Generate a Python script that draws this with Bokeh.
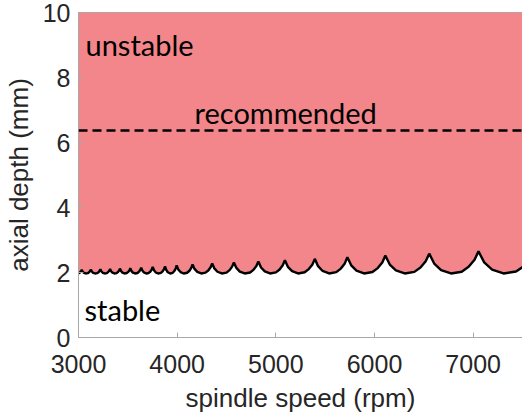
from bokeh.plotting import figure
from bokeh.embed import file_html
from bokeh.resources import INLINE
from bokeh.models import Range1d, FixedTicker, Span
from bokeh.core.properties import value

# ---- data ----
x_ticks = [3000, 4000, 5000, 6000, 7000]
y_ticks = [0, 2, 4, 6, 8, 10]
x_limits = [3000, 7500]
y_limits = [0, 10]

# stability-lobe boundary (spindle speed rpm, limiting axial depth mm)
boundary_rpm = [
    2945, 2954, 2966, 2984, 3003, 3015, 3026,
    3033, 3042, 3055, 3073, 3094, 3107, 3118,
    3125, 3135, 3148, 3168, 3189, 3203, 3214,
    3222, 3232, 3246, 3265, 3287, 3300, 3312,
    3320, 3330, 3344, 3364, 3386, 3400, 3412,
    3420, 3431, 3445, 3466, 3489, 3504, 3517,
    3525, 3536, 3551, 3573, 3598, 3613, 3626,
    3635, 3647, 3663, 3686, 3712, 3729, 3743,
    3752, 3765, 3782, 3807, 3835, 3852, 3867,
    3877, 3889, 3905, 3929, 3955, 3971, 3986,
    3995, 4011, 4034, 4066, 4101, 4124, 4143,
    4156, 4176, 4204, 4244, 4287, 4315, 4339,
    4355, 4377, 4408, 4452, 4500, 4531, 4557,
    4575, 4600, 4635, 4684, 4739, 4773, 4803,
    4823, 4850, 4888, 4941, 5001, 5038, 5070,
    5092, 5122, 5165, 5225, 5292, 5334, 5371,
    5395, 5428, 5474, 5540, 5613, 5659, 5699,
    5725, 5764, 5817, 5894, 5979, 6033, 6079,
    6110, 6155, 6217, 6306, 6404, 6466, 6519,
    6555, 6605, 6675, 6775, 6884, 6954, 7014,
    7054, 7112, 7192, 7307, 7434, 7515, 7584,
    7630,
]
boundary_depth = [
    2.07, 2.020, 1.987, 1.97, 1.979, 2.003, 2.038,
    2.08, 2.025, 1.989, 1.97, 1.980, 2.006, 2.044,
    2.09, 2.030, 1.990, 1.97, 1.980, 2.009, 2.051,
    2.10, 2.035, 1.992, 1.97, 1.981, 2.012, 2.057,
    2.11, 2.040, 1.994, 1.97, 1.982, 2.015, 2.063,
    2.12, 2.045, 1.996, 1.97, 1.983, 2.018, 2.069,
    2.13, 2.050, 1.997, 1.97, 1.984, 2.024, 2.082,
    2.15, 2.060, 2.001, 1.97, 1.986, 2.030, 2.094,
    2.17, 2.070, 2.004, 1.97, 1.988, 2.036, 2.106,
    2.19, 2.080, 2.007, 1.97, 1.990, 2.045, 2.125,
    2.22, 2.095, 2.013, 1.97, 1.992, 2.054, 2.144,
    2.25, 2.110, 2.018, 1.97, 1.995, 2.063, 2.162,
    2.28, 2.125, 2.023, 1.97, 1.997, 2.072, 2.181,
    2.31, 2.140, 2.028, 1.97, 2.000, 2.081, 2.199,
    2.34, 2.155, 2.033, 1.97, 2.003, 2.093, 2.224,
    2.38, 2.175, 2.040, 1.97, 2.006, 2.105, 2.249,
    2.42, 2.195, 2.047, 1.97, 2.010, 2.120, 2.280,
    2.47, 2.220, 2.055, 1.97, 2.014, 2.135, 2.311,
    2.52, 2.245, 2.064, 1.97, 2.019, 2.153, 2.348,
    2.58, 2.275, 2.074, 1.97, 2.024, 2.174, 2.392,
    2.65, 2.310, 2.086, 1.97, 2.030, 2.195, 2.435,
    2.72,
]
recommended_depth = 6.37

region_labels = ["unstable", "recommended", "stable"]
region_label_rpm = [3071, 4176, 3061]
region_label_depth = [9.03, 6.92, 0.85]

# ---- styling ----
FILL = "#F3868A"
AXIS_COL = "#262626"
TICK_FONT = "Liberation Sans"

p = figure(
    width=522, height=415,
    frame_width=444, frame_height=325,
    min_border_left=77, min_border_right=1,
    min_border_top=12, min_border_bottom=78,
    x_range=Range1d(*x_limits), y_range=Range1d(*y_limits),
    output_backend="svg", toolbar_location=None,
    background_fill_color="white", border_fill_color="white",
)
p.grid.visible = False
p.outline_line_color = "#a8a8a8"
p.outline_line_width = 1

# unstable region
p.varea(x=boundary_rpm, y1=boundary_depth, y2=y_limits[1], fill_color=FILL, fill_alpha=1.0)
# lobe boundary
p.line(x=boundary_rpm, y=boundary_depth, line_color="black", line_width=2.4)

# recommended depth
p.add_layout(Span(location=recommended_depth, dimension="width", line_color="black",
                  line_width=2.5, line_dash="9 5"))

p.text(x=region_label_rpm, y=region_label_depth, text=region_labels,
       text_font=value("Lato"), text_font_size="29px", text_color="black",
       text_baseline="alphabetic", text_align="left")

for ax in (p.xaxis[0], p.yaxis[0]):
    ax.major_tick_in = 5
    ax.major_tick_out = 0
    ax.minor_tick_line_color = None
    ax.axis_line_color = "#a8a8a8"
    ax.major_tick_line_color = "#a8a8a8"
    ax.major_label_text_font = TICK_FONT
    ax.major_label_text_font_size = "25px"
    ax.major_label_text_color = AXIS_COL
    ax.axis_label_text_font = TICK_FONT
    ax.axis_label_text_font_size = "26px"
    ax.axis_label_text_font_style = "normal"
    ax.axis_label_text_color = AXIS_COL

p.xaxis.ticker = FixedTicker(ticks=x_ticks)
p.yaxis.ticker = FixedTicker(ticks=y_ticks)
p.xaxis.axis_label = "spindle speed (rpm)"
p.yaxis.axis_label = "axial depth (mm)"
p.xaxis.major_label_standoff = 17
p.xaxis.axis_label_standoff = 7
p.yaxis.major_label_standoff = 8
p.yaxis.axis_label_standoff = 6

open("out.html", "w").write(file_html(p, INLINE))
